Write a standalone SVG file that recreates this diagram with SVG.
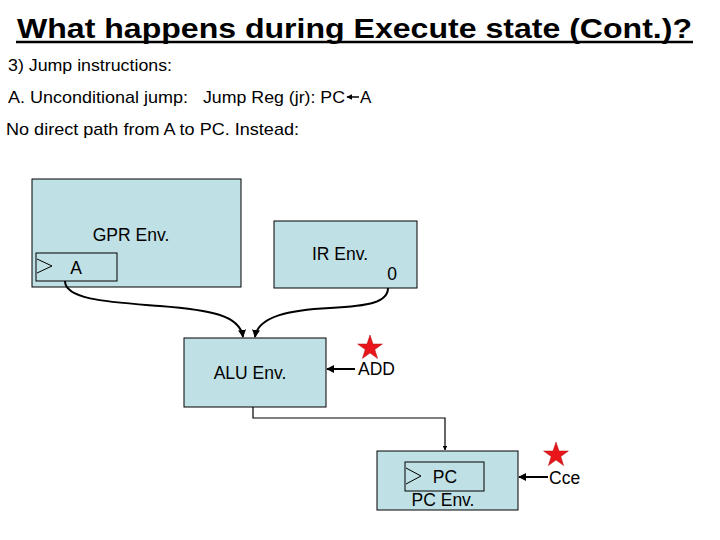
<svg xmlns="http://www.w3.org/2000/svg" width="720" height="540" viewBox="0 0 720 540">
<defs>
<style>
text{font-family:"Liberation Sans",Arial,sans-serif;fill:#000}
.box{fill:#bfe0e4;stroke:#000;stroke-width:1}
.reg{fill:none;stroke:#000;stroke-width:1}
.lbl{font-size:17.5px}
.body{font-size:17px}
.wire{fill:none;stroke:#000;stroke-width:2}
.star{fill:#e8161b;stroke:#b01010;stroke-width:0.5}
</style>
<marker id="ah" viewBox="0 0 10 10" refX="9" refY="5" markerWidth="4" markerHeight="4" orient="auto-start-reverse" markerUnits="strokeWidth">
<path d="M0,0 L10,5 L0,10 z" fill="#000"/>
</marker>
<polygon id="st" points="0,-13 3,-4 12.4,-4 4.8,1.5 7.6,10.5 0,5 -7.6,10.5 -4.8,1.5 -12.4,-4 -3,-4"/>
</defs>
<g id="title">
<text x="17" y="38" font-size="28" font-weight="bold" textLength="675" lengthAdjust="spacingAndGlyphs">What happens during Execute state (Cont.)?</text>
<line x1="16" y1="42" x2="693" y2="42" stroke="#000" stroke-width="2.5"/>
</g>
<g id="text-lines">
<text class="body" x="8" y="71" textLength="164" lengthAdjust="spacingAndGlyphs">3) Jump instructions:</text>
<text class="body" x="8" y="103" textLength="180" lengthAdjust="spacingAndGlyphs">A. Unconditional jump:</text>
<text class="body" x="203" y="103" textLength="142" lengthAdjust="spacingAndGlyphs">Jump Reg (jr): PC</text>
<line x1="359" y1="97" x2="347" y2="97" stroke="#000" stroke-width="1.5" marker-end="url(#ah)"/>
<text class="body" x="360" y="103">A</text>
<text class="body" x="6" y="135" textLength="293" lengthAdjust="spacingAndGlyphs">No direct path from A to PC. Instead:</text>
</g>
<g id="gpr">
<rect class="box" x="32" y="179" width="209" height="108"/>
<text class="lbl" x="131" y="241" text-anchor="middle">GPR Env.</text>
<rect class="reg" x="36" y="253" width="81" height="28"/>
<polyline class="reg" points="37,259 52,266 37,273"/>
<text class="lbl" x="76" y="274" text-anchor="middle">A</text>
</g>
<g id="ir">
<rect class="box" x="274" y="221" width="143" height="67"/>
<text class="lbl" x="340" y="260" text-anchor="middle">IR Env.</text>
<text class="lbl" x="392" y="280" text-anchor="middle">0</text>
</g>
<g id="alu">
<rect class="box" x="184" y="338" width="142" height="69"/>
<text class="lbl" x="250" y="379" text-anchor="middle">ALU Env.</text>
</g>
<g id="add">
<use href="#st" class="star" x="370" y="348"/>
<text class="lbl" x="358" y="375">ADD</text>
</g>
<g id="pc">
<rect class="box" x="377" y="451" width="141" height="59"/>
<rect class="reg" x="405" y="462" width="79" height="29"/>
<polyline class="reg" points="406,468 421,476 406,484"/>
<text class="lbl" x="445" y="483" text-anchor="middle">PC</text>
<text class="lbl" x="443" y="506" text-anchor="middle">PC Env.</text>
</g>
<g id="cce">
<use href="#st" class="star" x="556" y="455"/>
<text class="lbl" x="549" y="484">Cce</text>
</g>
<g id="connectors">
<path class="wire" d="M65,281 C65,300 110,302 160,306 C210,310 240,315 243,337" marker-end="url(#ah)"/>
<path class="wire" d="M388,288 C388,302 370,306 330,308 C290,310 258,316 255,337" marker-end="url(#ah)"/>
<line class="wire" x1="355" y1="369" x2="327" y2="369" marker-end="url(#ah)"/>
<polyline class="wire" style="stroke-width:1.2" points="253,407 253,418 445,418 445,450" marker-end="url(#ah)"/>
<line class="wire" x1="548" y1="477" x2="519" y2="477" marker-end="url(#ah)"/>
</g>
</svg>
